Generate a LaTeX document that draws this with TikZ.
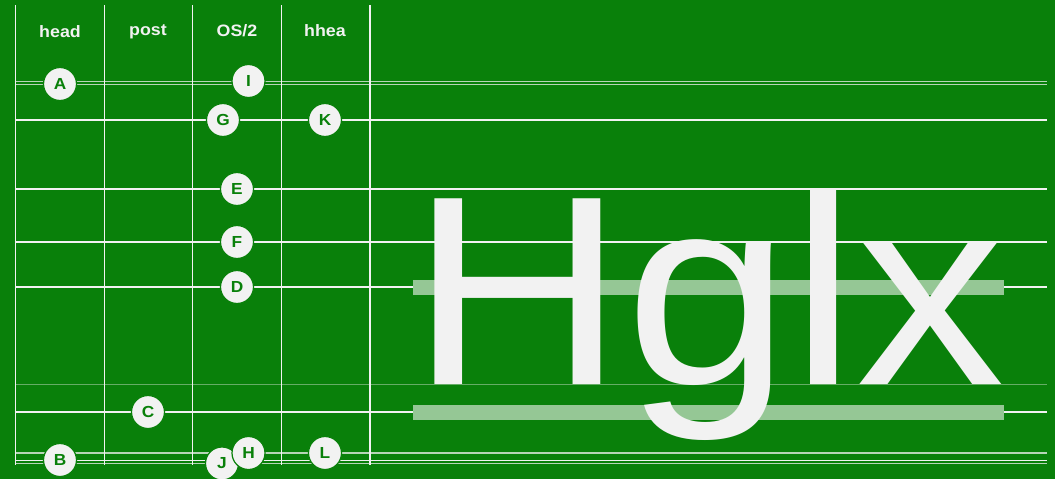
\documentclass[tikz,border=0pt]{standalone}
\usepackage{fontspec}
\setmainfont{Liberation Sans}
\newfontfamily\bigfont[FakeStretch=1.1]{Liberation Sans}
\newfontfamily\labfont[FakeStretch=1.08]{Liberation Sans Bold}
\definecolor{bg}{HTML}{09800A}
\definecolor{ink}{HTML}{F2F2F2}
\definecolor{bar}{HTML}{95C795}
\tikzset{
  wline/.style={draw=ink, line width=1.2pt},
  gline/.style={draw=ink, line width=1.2pt, opacity=0.75},
  fline/.style={draw=ink, line width=1pt, opacity=0.4},
  collabel/.style={text=ink, font=\labfont\fontsize{16.5}{18}\selectfont, inner sep=0pt},
  marker/.style={circle, fill=ink, draw=bg, line width=1.2pt, minimum size=33pt, inner sep=0pt,
    text=bg, font=\labfont\fontsize{16}{18}\selectfont},
  glyphbar/.style={fill=bar, draw=none}
}
\begin{document}
\begin{tikzpicture}[x=1pt,y=-1pt]
\fill[bg] (0,0) rectangle (1055,479);
\useasboundingbox (0,0) rectangle (1055,479);
% horizontal lines
\draw[gline] (15.7,81.5) -- (1047,81.5);
\draw[gline] (15.7,84.3) -- (1047,84.3);
\draw[wline] (15.7,120) -- (1047,120);
\draw[wline] (15.7,189) -- (1047,189);
\draw[wline] (15.7,242) -- (1047,242);
\draw[wline] (15.7,287) -- (1047,287);
\draw[fline] (15.7,384) -- (1047,384);
\draw[wline] (15.7,412) -- (1047,412);
\draw[gline] (15.7,453) -- (1047,453);
\draw[wline] (15.7,460.3) -- (1047,460.3);
\draw[gline] (15.7,463.7) -- (1047,463.7);
% vertical lines
\foreach \x in {15.7,104.3,192.7,281.7,370} \draw[wline] (\x,5) -- (\x,464.5);
% column labels
\node[collabel] (lhead) at (60,32) {head};
\node[collabel] (lpost) at (148,32) {post};
\node[collabel] (los2) at (237,31) {OS/2};
\node[collabel] (lhhea) at (325,31) {hhea};
% bars
\fill[glyphbar] (413,280) rectangle (1004,294.5);
\fill[glyphbar] (413,405) rectangle (1004,419.5);
% big glyphs
\node[anchor=base west, inner sep=0pt, text=ink, font=\bigfont\fontsize{270}{270}\selectfont] (glyphs) at (410.5,384) {Hglx};
% markers
\node[marker] (A) at (60,84) {A};
\node[marker] (I) at (248.5,81) {I};
\node[marker] (G) at (223,120) {G};
\node[marker] (K) at (325,120) {K};
\node[marker] (E) at (237,189) {E};
\node[marker] (F) at (237,242) {F};
\node[marker] (D) at (237,287) {D};
\node[marker] (C) at (148,412) {C};
\node[marker] (B) at (60,460) {B};
\node[marker] (J) at (222,463.5) {J};
\node[marker] (H) at (248.5,453) {H};
\node[marker] (L) at (325,453) {L};
\end{tikzpicture}
\end{document}
